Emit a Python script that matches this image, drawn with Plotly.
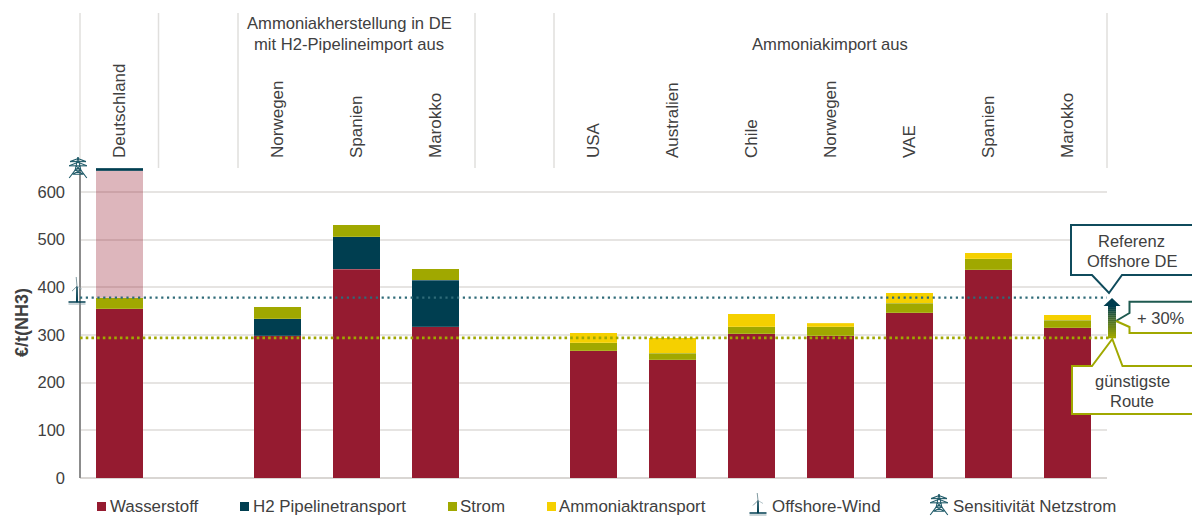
import plotly.graph_objects as go

categories = ["Deutschland", "", "Norwegen", "Spanien", "Marokko", "", "USA", "Australien", "Chile", "Norwegen", "VAE", "Spanien", "Marokko"]
wasserstoff = [355, None, 298, 438, 317, None, 267, 248, 302, 298, 347, 437, 315]
pipeline = [None, None, 36, 68, 98, None, None, None, None, None, None, None, None]
strom = [23, None, 25, 25, 24, None, 17, 14, 15, 19, 19, 23, 16]
sensitivitaet = [266, None, None, None, None, None, None, None, None, None, None, None, None]
netz_kappe = [6, None, None, None, None, None, None, None, None, None, None, None, None]
ammoniak = [None, None, None, None, None, None, 21, 32, 27, 8, 22, 12, 11]
ref_offshore = 378
ref_cheapest = 294
y_ticks = [0, 100, 200, 300, 400, 500, 600]

RED, TEAL, OLIVE, YELLOW, TXT = "#951b30", "#003e50", "#a0a800", "#f5d000", "#404040"
FONT = "Liberation Sans"
W, H = 1192, 516
L, R, T, B = 80, 1107, 168, 478
FS = 16.5


def px(x, y):
    return (x - L) / (R - L), (B - y) / (B - T)


def path(points, close=False):
    s = ""
    for i, (x, y) in enumerate(points):
        a, b = px(x, y)
        s += f"{'M' if i == 0 else 'L'}{a:.5f},{b:.5f} "
    return s + ("Z" if close else "")


def shape(points, close=False, line=None, width=1, fill=None):
    return dict(type="path", xref="paper", yref="paper", path=path(points, close),
                line=dict(color=line or "rgba(0,0,0,0)", width=width if line else 0),
                fillcolor=fill or "rgba(0,0,0,0)", layer="above")


def tower(cx, top, bottom, color="#1f5a68"):
    h, w = bottom - top, (bottom - top) * 0.42
    y = lambda f: top + h * f
    out = [
        [(cx, y(0)), (cx - w * .32, y(.62)), (cx - w, y(1))],
        [(cx, y(0)), (cx + w * .32, y(.62)), (cx + w, y(1))],
        [(cx - w * .9, y(.22)), (cx + w * .9, y(.22))],
        [(cx - w, y(.42)), (cx + w, y(.42))],
        [(cx - w * .32, y(.62)), (cx + w * .32, y(.62))],
        [(cx - w * .9, y(.22)), (cx, y(.07)), (cx + w * .9, y(.22))],
        [(cx - w, y(.42)), (cx, y(.25)), (cx + w, y(.42))],
        [(cx - w * .23, y(.42)), (cx + w * .32, y(.62)), (cx - w * .62, y(.82)), (cx + w * .62, y(.82)), (cx - w * .32, y(.62)), (cx + w * .23, y(.42))],
    ]
    return [shape(p, line=color, width=1.1) for p in out]


def turbine(cx, top, bottom, color=TEAL):
    h = bottom - top
    hub = top + h * .34
    out = [shape([(cx - .5, bottom - 2), (cx, hub), (cx + .5, bottom - 2)], close=True, line=color, width=1, fill=color),
           shape([(cx - 8.5, bottom - 2), (cx + 8.5, bottom - 2)], line=color, width=1.5),
           shape([(cx - 8.5, bottom), (cx + 8.5, bottom)], line="#7f9aa2", width=.8),
           shape([(cx, hub), (cx - .8, top)], line="#5f7f88", width=.8),
           shape([(cx, hub), (cx + 5, hub + 3)], line="#9fb4ba", width=.8),
           shape([(cx, hub), (cx - 5, hub + 5)], line="#5f7f88", width=.8)]
    return out


x_pos = list(range(len(categories)))
fig = go.Figure()
edge = dict(width=1, color="rgba(255,255,255,0.15)")
for name, vals, col in [("Wasserstoff", wasserstoff, RED), ("H2 Pipelinetransport", pipeline, TEAL), ("Strom", strom, OLIVE),
                        ("Sensitivität Netzstrom", sensitivitaet, "rgba(149,27,48,0.32)"),
                        ("H2 Pipelinetransport", netz_kappe, TEAL), ("Ammoniaktransport", ammoniak, YELLOW)]:
    fig.add_bar(x=x_pos, y=vals, name=name, width=0.6, marker=dict(color=col, line=edge), showlegend=False)

shapes = []
# separators above the plot
for sx in [80, 158.5, 238, 475, 554, 1107]:
    shapes.append(shape([(sx, 13), (sx, 168)], line="#e0dfdd", width=1.5))
shapes.append(shape([(80, 168), (80, 478)], line="#8c8c8c", width=2))

# reference lines
shapes.append(dict(type="line", xref="paper", yref="y", x0=0, x1=1.0, y0=ref_offshore, y1=ref_offshore,
                   line=dict(color="#2f6b78", width=2.3, dash="2.2px,3.6px"), layer="above"))
shapes.append(dict(type="line", xref="paper", yref="y", x0=0, x1=1.003, y0=ref_cheapest, y1=ref_cheapest,
                   line=dict(color=OLIVE, width=2.8, dash="2.6px,3.1px"), layer="above"))

# gradient arrow
n = 16
c0, c1 = (0x00, 0x3e, 0x50), (0xa0, 0xa8, 0x00)
for i in range(n):
    t = i / (n - 1)
    col = "rgb(%d,%d,%d)" % tuple(round(a + (b - a) * t) for a, b in zip(c0, c1))
    y0 = 305 + (338 - 305) * i / n
    y1 = 305 + (338 - 305) * (i + 1) / n + .3
    shapes.append(shape([(1108, y0), (1116, y0), (1116, y1), (1108, y1)], close=True, fill=col))
shapes.append(shape([(1112, 298), (1120.5, 306), (1103.5, 306)], close=True, fill=TEAL))

# callouts
shapes.append(shape([(1194, 225), (1071, 225), (1071, 275), (1092, 275), (1109, 293), (1122, 275), (1194, 275)],
                    close=True, line="#0f4b5c", width=2, fill="white"))
shapes.append(shape([(1194, 301.7), (1129.5, 301.7), (1129.5, 313), (1116, 321), (1129.5, 327), (1129.5, 333), (1194, 333)],
                    close=True, fill="white"))
shapes.append(shape([(1194, 301.7), (1129.5, 301.7), (1129.5, 313), (1116, 321)], line="#1f5a50", width=2))
shapes.append(shape([(1116, 321), (1129.5, 327), (1129.5, 333), (1194, 333)], line=OLIVE, width=2))
shapes.append(shape([(1194, 366), (1072, 366), (1072, 414), (1194, 414)], close=False, fill="white"))
shapes.append(shape([(1194, 366), (1122.5, 366), (1112.3, 339), (1092, 366), (1072, 366), (1072, 414), (1194, 414)],
                    close=False, line=OLIVE, width=2, fill="white"))

# axis icons
shapes += tower(78, 157, 178)
shapes += turbine(77, 277, 304)

# legend swatches and icons
for sx, col in [(97, RED), (240, TEAL), (448, OLIVE), (547, YELLOW)]:
    shapes.append(shape([(sx, 502), (sx + 9, 502), (sx + 9, 511), (sx, 511)], close=True, fill=col))
shapes += turbine(758, 493, 515)
shapes += tower(939, 494, 515)


def text(x, y, s, size=FS, anchor="center", **kw):
    a, b = px(x, y)
    return dict(xref="paper", yref="paper", x=a, y=b, text=s, showarrow=False, xanchor=anchor, yanchor="middle",
                font=dict(family=FONT, size=size, color=TXT), **kw)


ann = [text(349, 23, "Ammoniakherstellung in DE", size=16.6), text(349, 44, "mit H2-Pipelineimport aus", size=16.6),
       text(830, 44, "Ammoniakimport aus", size=16.6),
       text(1131.5, 241, "Referenz"), text(1131.5, 261, "Offshore DE"), text(1161, 318, "+ 30%"),
       text(1132, 381, "günstigste"), text(1132, 401, "Route")]
for lx, s in [(108, "Wasserstoff"), (251, "H2 Pipelinetransport"), (458, "Strom"), (557, "Ammoniaktransport"),
              (769.5, "Offshore-Wind"), (951, "Sensitivität Netzstrom")]:
    ann.append(text(lx, 506, s, size=16.9, anchor="left"))
ann.append(text(22, 323, "<b>€/t(NH3)</b>", size=18, textangle=-90))

fig.update_layout(
    barmode="stack", width=W, height=H, autosize=False, showlegend=False,
    margin=dict(l=L, r=W - R, t=T, b=H - B, pad=0),
    plot_bgcolor="white", paper_bgcolor="white", shapes=shapes, annotations=ann,
    font=dict(family=FONT, size=FS, color=TXT),
    xaxis=dict(range=[-0.5, len(categories) - 0.5], side="top", tickmode="array", tickvals=x_pos, ticktext=categories,
               tickangle=-90, ticks="", showgrid=False, showline=False, zeroline=False, ticklabelstandoff=9,
               tickfont=dict(family=FONT, size=17, color=TXT)),
    yaxis=dict(range=[0, 650], tickmode="array", tickvals=y_ticks, ticks="", showgrid=True, gridcolor="#e6e4e2", gridwidth=1.5,
               showline=False, zeroline=True, zerolinecolor="#d9d6d3", zerolinewidth=1.5, ticklabelstandoff=14,
               tickfont=dict(family=FONT, size=FS, color=TXT)),
)
fig.write_html("out.html", post_script="document.body.style.margin='0';", config={"displayModeBar": False})
